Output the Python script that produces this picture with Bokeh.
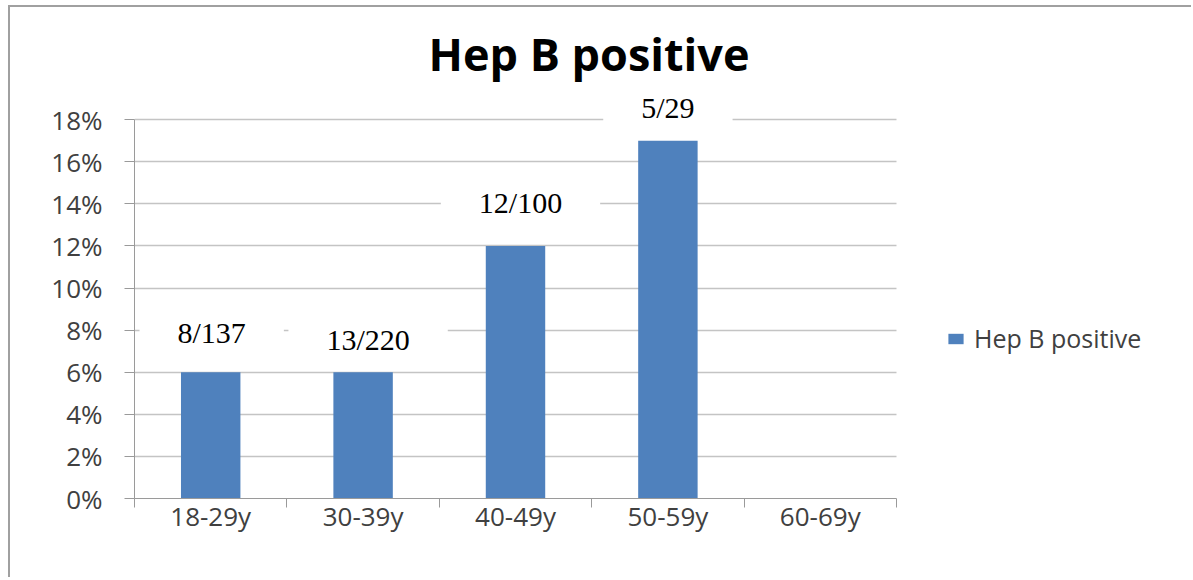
from bokeh.plotting import figure
from bokeh.models import (ColumnDataSource, Range1d, FixedTicker, NumeralTickFormatter,
                          Legend, LegendItem, Title)
from bokeh.core.properties import value
from bokeh.embed import file_html
from bokeh.resources import INLINE

# ---- data ----
categories = ["18-29y", "30-39y", "40-49y", "50-59y", "60-69y"]
hepb_positive = [0.06, 0.06, 0.12, 0.17, 0.0]
count_labels = ["8/137", "13/220", "12/100", "5/29", ""]
y_ticks = [0, 0.02, 0.04, 0.06, 0.08, 0.10, 0.12, 0.14, 0.16, 0.18]
series_name = "Hep B positive"
title_text = "Hep B positive"

n = len(categories)
centers = [i + 0.5 for i in range(n)]

W, H = 1183, 572
left_b, top_b, bottom_b = 124, 70, 81
cat_px = 152.4                      # pixel width of one category slot
x_end = (W - left_b) / cat_px       # frame extends under the legend area

p = figure(width=W, height=H, output_backend="svg", toolbar_location=None,
           x_range=Range1d(0, x_end), y_range=Range1d(0, 0.20),
           min_border_left=left_b, min_border_right=0, min_border_top=top_b,
           min_border_bottom=bottom_b)
p.outline_line_color = None
p.background_fill_color = "white"
p.border_fill_color = "white"
p.styles = {"margin-left": "8px", "margin-top": "5px",
            "border-left": "2px solid #a0a0a0", "border-top": "2px solid #a0a0a0"}

# title
p.title = Title(text=title_text, align="left", offset=294, standoff=-12,
                text_font="Open Sans", text_font_size="45px",
                text_font_style="bold", text_color="#000000")

src = ColumnDataSource(dict(x=centers, top=hepb_positive))
bars = p.vbar(x="x", top="top", width=0.39, source=src,
              fill_color="#4f81bd", line_color=None)

# data labels with white boxes
lab = ColumnDataSource(dict(x=centers[:4], y=hepb_positive[:4], text=count_labels[:4],
                            xo=[1, 5, 5, 0], yo=[-40, -33, -43, -33]))
p.text(x="x", y="y", text="text", source=lab, x_offset="xo", y_offset="yo",
       text_align="center", text_baseline="middle",
       text_font=value("Liberation Serif"), text_font_size="30px", text_color="black",
       background_fill_color="white", padding=dict(left=38, right=38, top=10, bottom=10))

# y axis
yax = p.yaxis[0]
yax.ticker = FixedTicker(ticks=y_ticks)
yax.bounds = (y_ticks[0], y_ticks[-1])
yax.formatter = NumeralTickFormatter(format="0%")
yax.axis_line_color = "#9a9a9a"
yax.major_tick_line_color = "#9a9a9a"
yax.major_tick_out = 10
yax.major_tick_in = 0
yax.minor_tick_line_color = None
yax.major_label_standoff = 22
yax.major_label_text_font = "Open Sans"
yax.major_label_text_font_size = "26px"
yax.major_label_text_color = "#404040"

# x axis: labels at centers, ticks at boundaries
xax = p.xaxis[0]
xax.ticker = FixedTicker(ticks=centers, minor_ticks=list(range(n + 1)))
xax.bounds = (0, n)
xax.major_label_overrides = {c: s for c, s in zip(centers, categories)}
xax.axis_line_color = "#9a9a9a"
xax.major_tick_line_color = None
xax.major_tick_out = 0
xax.minor_tick_line_color = "#9a9a9a"
xax.minor_tick_out = 9
xax.minor_tick_in = 0
xax.major_label_standoff = -10
xax.major_label_text_font = "Open Sans"
xax.major_label_text_font_size = "26px"
xax.major_label_text_color = "#404040"

p.xgrid.grid_line_color = None
p.ygrid.grid_line_color = "#c4c4c4"
p.ygrid.grid_line_width = 1.5
p.ygrid.bounds = (y_ticks[0], y_ticks[-1])
p.ygrid.cross_bounds = (0, n)

legend = Legend(items=[LegendItem(label=series_name, renderers=[bars])],
                location=(812, 143), glyph_width=19, glyph_height=13,
                label_standoff=9, padding=0, margin=0, border_line_color=None,
                background_fill_alpha=0, label_text_font="Open Sans",
                label_text_font_size="25px", label_text_color="#404040")
p.add_layout(legend)

open("out.html", "w").write(file_html(p, INLINE))
